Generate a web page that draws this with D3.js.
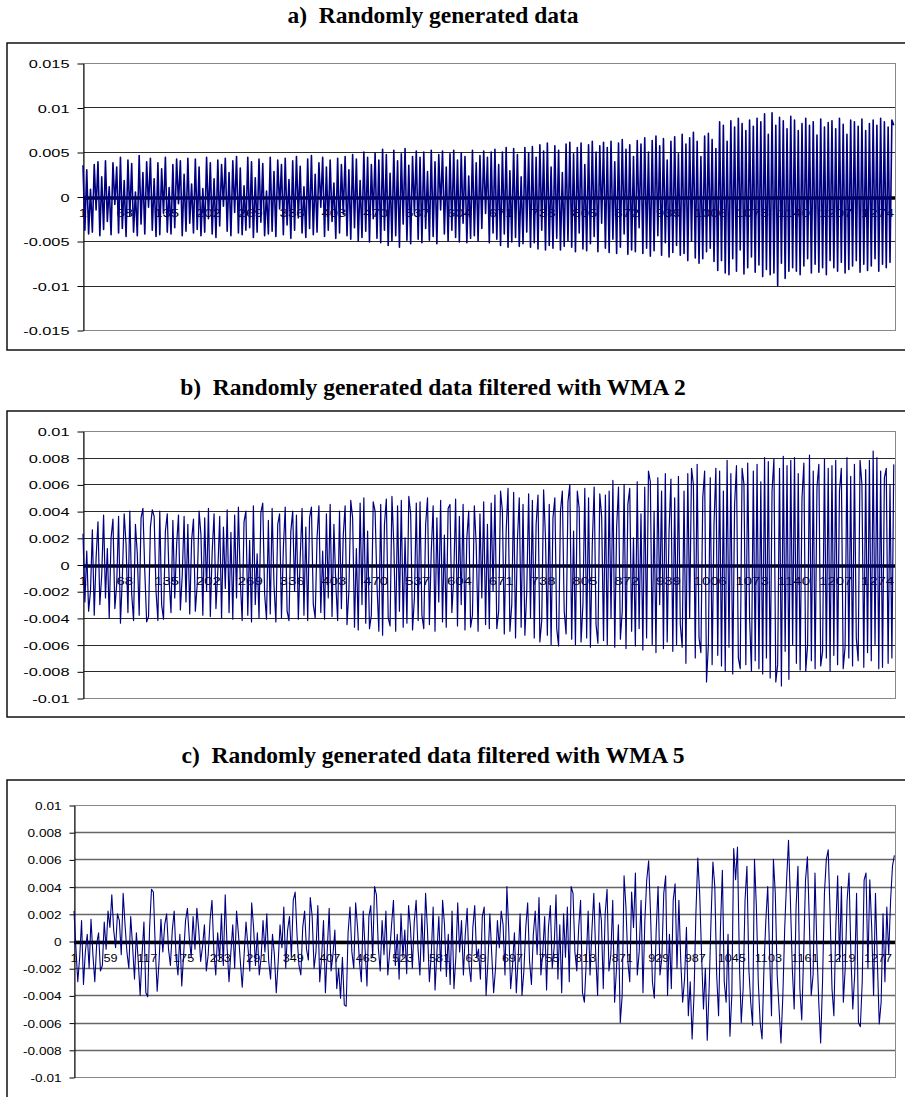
<!DOCTYPE html>
<html>
<head>
<meta charset="utf-8">
<title>Randomly generated data</title>
<style>
	body { margin: 0; background: #fff; }
	svg { display: block; }
	.title { font: bold 23.5px "Liberation Serif", "Times New Roman", serif; white-space: pre; }
	.lbl { font: 11.5px "Liberation Sans", Arial, sans-serif; fill: #000; }
</style>
<script src="https://cdnjs.cloudflare.com/ajax/libs/d3/7.8.5/d3.min.js"></script>
</head>
<body>
<script>
// series values are stored in units of 0.0001, one value every 3rd observation
var valueUnit = 1e-4;
var sampleStep = 3;

var titles = [
	"a)  Randomly generated data",
	"b)  Randomly generated data filtered with WMA 2",
	"c)  Randomly generated data filtered with WMA 5"
];

var seriesA = [
	35,-38,30,-42,8,-40,36,-15,39,-44,22,-37,40,-28,11,-43,38,-9,33,-41,
	44,-36,18,-45,41,-22,37,-40,5,-44,46,-31,27,-42,39,-12,43,-38,20,-45,
	38,-43,31,-19,44,-40,10,-42,36,-35,42,-8,40,-44,25,-39,43,-30,14,-41,
	42,-37,33,-44,9,-40,44,-25,38,-42,20,-46,41,-33,36,-11,43,-39,27,-44,
	40,-18,45,-41,32,-43,12,-38,44,-35,39,-46,21,-40,42,-29,37,-44,6,-42,
	44,-39,28,-45,41,-14,36,-43,43,-32,19,-47,40,-38,45,-24,34,-41,11,-46,
	42,-36,46,-43,25,-40,38,-12,44,-45,33,-38,41,-28,15,-47,43,-41,36,-20,
	45,-44,30,-48,47,-35,42,-50,18,-46,50,-39,44,-51,36,-25,49,-47,41,-52,
	53,-38,47,-55,26,-50,52,-44,40,-57,48,-31,54,-49,35,-53,45,-20,51,-48,
	44,-52,50,-36,28,-49,52,-45,39,-53,47,-15,51,-42,33,-50,48,-38,52,-46,
	41,-51,49,-30,45,-52,23,-47,52,-44,38,-50,46,-36,51,-19,44,-52,50,-41,
	53,-48,36,-55,50,-42,55,-57,29,-51,54,-46,47,-56,22,-53,55,-40,49,-57,
	56,-52,44,-59,58,-38,51,-60,60,-55,33,-58,57,-47,52,-60,27,-56,59,-50,
	61,-57,48,-62,55,-41,60,-59,36,-61,58,-53,62,-45,50,-62,57,-30,61,-58,
	55,-63,62,-48,39,-64,60,-57,64,-42,53,-65,58,-60,45,-62,63,-35,59,-64,
	66,-58,50,-67,63,-61,68,-44,57,-66,65,-52,41,-68,62,-63,67,-55,48,-66,
	70,-64,59,-72,66,-50,72,-69,62,-75,45,-70,68,-62,71,-58,64,-73,54,-83,
	84,-72,80,-86,62,-88,85,-70,78,-84,88,-60,82,-87,74,-80,86,-68,79,-85,
	88,-77,84,-90,93,-82,70,-88,94,-86,80,-100,89,-75,85,-92,76,-84,90,-80,
	86,-84,74,-88,82,-78,88,-70,80,-86,84,-76,69,-85,87,-80,78,-88,83,-72,
	85,-80,76,-84,88,-74,81,-86,70,-82,86,-78,84,-72,79,-85,87,-76,74,-83,
	82,-78,86,-70,80,-84,88,-76,84,-80,78,-74,86,80
];

var seriesB = [
	23,-28,10,-35,-20,26,-38,5,32,-30,-8,37,-25,12,-40,20,34,-33,-15,36,
	-44,-10,38,15,-36,40,-22,-42,30,8,-38,35,42,-5,-43,-39,28,41,36,-20,
	-42,40,-30,-41,25,38,-12,-36,33,-25,15,37,-34,-8,36,-28,30,-37,18,34,
	-35,-15,40,22,-38,35,-20,42,-39,10,38,-33,-5,36,-40,28,-18,41,-36,24,
	-41,37,-25,43,-12,-42,32,40,-38,18,-43,44,-30,8,-40,39,46,-22,-41,33,
	-37,42,-15,-43,30,38,-40,12,43,-35,-42,25,40,-20,37,-41,5,42,-38,28,
	-42,35,43,-30,-40,20,44,-36,10,-41,38,-25,45,-39,30,-14,-42,40,-33,22,
	44,-45,-20,48,35,-47,12,-49,46,-30,50,-44,25,-48,-38,47,40,-15,-50,45,
	-53,30,49,-40,-46,51,15,-50,44,-35,48,-47,20,-44,51,38,-49,-25,46,-42,
	47,-38,-48,30,50,-45,10,44,-50,35,-28,48,-43,22,-47,42,45,-36,-10,49,
	-46,36,-30,45,-49,20,40,-47,-38,44,15,-50,38,-25,47,-45,30,-48,46,-20,
	52,-48,-35,55,40,-52,25,57,-50,-30,54,-55,18,50,-47,45,-53,-20,53,-40,
	48,-55,30,52,-58,-42,56,20,-53,45,-60,35,50,-48,-61,40,55,-35,-52,47,
	60,-56,25,-60,55,42,-58,-30,57,-55,50,-62,15,58,-45,-59,53,36,-57,52,
	-60,55,-40,63,-62,28,58,-56,-35,60,-63,45,57,-50,20,-61,62,-48,38,-64,
	58,-55,70,62,-60,40,-66,65,-30,55,-63,68,-58,25,64,-65,50,-60,66,-45,
	-62,55,-74,68,-40,72,60,-70,75,-55,-66,50,70,-88,-60,65,-75,30,72,-68,
	70,-76,55,-80,78,-62,68,-82,45,74,-70,-78,72,60,-75,76,-40,-80,70,-72,
	75,-78,62,-82,80,-70,77,-85,55,79,-88,-75,72,-91,81,-65,74,-86,78,-60,
	80,-74,68,-79,50,76,-80,-60,82,-72,70,-78,58,75,-76,-65,79,-70,72,-80,
	74,-68,78,-75,55,72,-78,-62,80,-70,66,-76,75,-55,-72,78,60,-77,71,-66,
	78,-72,85,-60,80,-78,70,-77,65,72,-74,60,-70,75
];

var seriesC = [
	22,-5,-30,-12,15,-32,-8,5,-20,16,-10,-30,-2,6,-22,-18,14,-6,22,10,
	34,8,-5,20,15,-10,35,12,-8,-20,18,-4,-28,6,-15,-40,-10,14,-38,-41,
	10,38,36,-5,-37,-15,16,-8,12,20,-6,-18,8,22,-12,-25,5,-33,-10,15,
	24,2,-12,18,-6,24,8,-15,-4,12,-22,-10,16,30,-8,-25,6,-14,20,-18,
	34,-5,-30,-8,12,-20,22,5,-15,-34,-10,14,-4,-22,28,10,-18,6,-25,-12,
	15,-8,20,-15,-28,5,-10,-38,-16,12,-5,25,-20,8,18,-12,30,36,4,-18,
	-25,10,22,-6,-14,32,18,-20,-8,26,-30,-12,15,-38,-6,24,-22,-10,8,-35,
	-20,-42,-12,-47,-48,6,25,-8,-20,28,10,-15,-30,22,-6,-33,18,26,-12,40,
	34,-5,-22,15,-10,22,-25,-8,12,30,-18,5,-28,20,-12,8,-24,26,10,-20,
	14,30,-6,-25,20,-15,35,8,-30,-10,25,-36,-8,18,-22,30,12,-26,5,-32,
	22,-35,-12,28,-8,15,-25,5,24,-18,-30,10,26,-12,-6,-28,18,25,-40,-15,
	20,-10,-38,-20,15,-5,22,12,-25,40,8,-35,-18,6,-38,-12,20,-40,-22,10,
	28,-15,-32,5,22,-10,32,-25,-8,18,-36,10,26,-20,-5,34,-28,12,-38,20,
	-12,25,-30,40,35,-8,-22,10,30,-38,-45,-15,22,-25,8,35,-10,-40,28,15,
	-35,20,38,-22,-10,30,-45,-20,12,-60,-40,48,25,-15,-30,36,10,50,-25,-8,
	30,-38,15,45,59,20,-30,-42,8,40,-25,-12,35,48,-40,5,-35,30,42,-20,
	30,-15,-45,-28,10,-55,-30,-72,-40,20,61,35,-10,-50,-20,-73,-35,15,58,40,
	-25,-55,10,52,-30,-45,5,-70,-40,68,45,69,-15,-60,-35,30,55,-20,-45,-62,
	60,25,-30,-60,-72,-20,15,40,-10,-55,60,35,-25,-50,-75,-40,10,45,74,30,
	-20,-50,25,55,-35,-58,-10,45,62,15,-40,-25,50,-5,-45,-75,-30,35,60,67,
	20,-35,-55,10,48,-15,40,-45,-20,30,50,-10,-50,-25,35,-60,-63,-30,45,50,
	-20,45,10,-40,35,-15,-61,-45,20,-30,25,-10,30,55,63
];

var yTicksA = [0.015, 0.01, 0.005, 0, -0.005, -0.01, -0.015];
var yTicksBC = [0.01, 0.008, 0.006, 0.004, 0.002, 0, -0.002, -0.004, -0.006, -0.008, -0.01];
var xLabelsAB = [1, 68, 135, 202, 269, 336, 403, 470, 537, 604, 671, 738, 805, 872, 939, 1006, 1073, 1140, 1207, 1274];
var xLabelsC = [1, 59, 117, 175, 233, 291, 349, 407, 465, 523, 581, 639, 697, 755, 813, 871, 929, 987, 1045, 1103, 1161, 1219, 1277];
var pointCountAB = 1302, pointCountC = 1304;

var W = 905, H = 1097;
var svg = d3.select("body").append("svg").attr("width", W).attr("height", H);
svg.append("rect").attr("width", W).attr("height", H).attr("fill", "#fff");

var panels = [
	{title: titles[0], data: seriesA, ticks: yTicksA, labels: xLabelsAB, n: pointCountAB,
	 titleY: 23, boxTop: 43, boxBottom: 350, left: 83, right: 895, top: 63, bottom: 330,
	 tickLen: 6, yStretch: 1.42, xStretch: 1.3, grid: "#2a2a2a", gridW: 1, lineW: 1.6},
	{title: titles[1], data: seriesB, ticks: yTicksBC, labels: xLabelsAB, n: pointCountAB,
	 titleY: 395, boxTop: 411, boxBottom: 717, left: 83, right: 895, top: 431, bottom: 698,
	 tickLen: 6, yStretch: 1.42, xStretch: 1.3, grid: "#2a2a2a", gridW: 1, lineW: 1.2},
	{title: titles[2], data: seriesC, ticks: yTicksBC, labels: xLabelsC, n: pointCountC,
	 titleY: 763, boxTop: 780, boxBottom: 1110, left: 74, right: 895, top: 805, bottom: 1077,
	 tickLen: 5, yStretch: 1.18, xStretch: 1.1, grid: "#666", gridW: 1.4, lineW: 1.1}
];

panels.forEach(function(p) {
	var g = svg.append("g");

	g.append("text")
		.attr("class", "title")
		.attr("x", 433)
		.attr("y", p.titleY)
		.attr("text-anchor", "middle")
		.text(p.title);

	// chart frame
	g.append("rect")
		.attr("x", 7).attr("y", p.boxTop)
		.attr("width", 910).attr("height", p.boxBottom - p.boxTop)
		.attr("fill", "none").attr("stroke", "#111").attr("stroke-width", 1.5);

	var x = d3.scaleLinear().domain([1, p.n]).range([p.left, p.right]);
	var y = d3.scaleLinear().domain(d3.extent(p.ticks)).range([p.bottom, p.top]);

	// gridlines
	g.selectAll(".grid")
		.data(p.ticks.filter(function(t) { return t !== p.ticks[0] && t !== p.ticks[p.ticks.length - 1]; }))
		.enter().append("line")
			.attr("x1", p.left).attr("x2", p.right)
			.attr("y1", function(d) { return Math.round(y(d)) + 0.5; })
			.attr("y2", function(d) { return Math.round(y(d)) + 0.5; })
			.attr("stroke", p.grid).attr("stroke-width", p.gridW);

	// plot area border
	g.append("rect")
		.attr("x", p.left + 0.5).attr("y", Math.round(p.top) + 0.5)
		.attr("width", p.right - p.left).attr("height", p.bottom - p.top)
		.attr("fill", "none").attr("stroke", "#888").attr("stroke-width", 1);

	// value axis
	var yAxis = g.append("g")
		.attr("transform", "translate(" + (p.left + 0.5) + ",0.5)")
		.call(d3.axisLeft(y).tickValues(p.ticks).tickSize(p.tickLen).tickSizeOuter(0)
			.tickFormat(function(d) { return String(d); }));
	yAxis.select(".domain").attr("stroke", "#000");
	yAxis.selectAll(".tick line").attr("stroke", "#000");
	yAxis.selectAll("text")
		.attr("class", "lbl")
		.attr("x", null)
		.attr("dy", "0.35em")
		.attr("transform", "translate(" + (-p.tickLen - 8) + ",0) scale(" + p.yStretch + ",1)");

	// category axis crossing at zero
	var y0 = y(0) + 1.5;
	g.append("line")
		.attr("x1", p.left).attr("x2", p.right)
		.attr("y1", y0).attr("y2", y0)
		.attr("stroke", "#000").attr("stroke-width", 3.5);

	g.selectAll(".xl")
		.data(p.labels)
		.enter().append("text")
			.attr("class", "lbl")
			.attr("text-anchor", "middle")
			.attr("transform", function(d) {
				return "translate(" + x(d) + "," + (y0 + 19) + ") scale(" + p.xStretch + ",1)";
			})
			.text(function(d) { return d; });

	var line = d3.line()
		.x(function(d, i) { return x(1 + i * sampleStep); })
		.y(function(d) { return y(d * valueUnit); });

	g.append("path")
		.datum(p.data)
		.attr("d", line)
		.attr("fill", "none")
		.attr("stroke", "#000080")
		.attr("stroke-width", p.lineW)
		.attr("stroke-linejoin", "round");
});
</script>
</body>
</html>
